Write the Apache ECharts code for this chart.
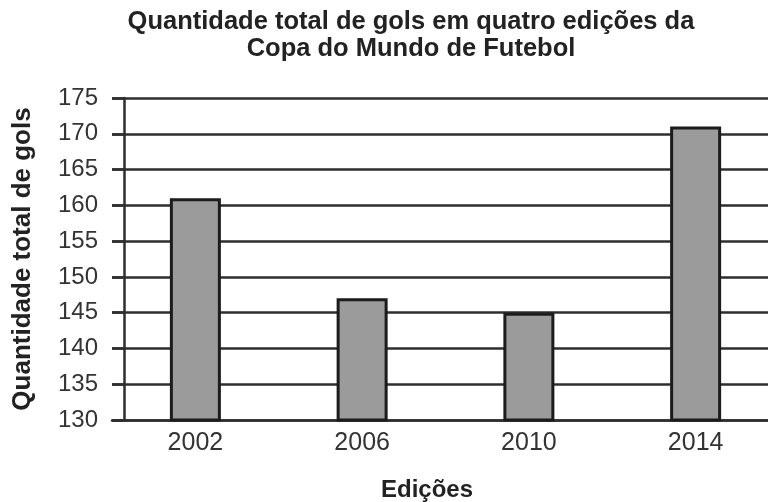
<!DOCTYPE html>
<html>
<head>
<meta charset="utf-8">
<script src="https://cdn.jsdelivr.net/npm/echarts@6/dist/echarts.min.js"></script>
<style>html,body{margin:0;padding:0;background:#fff}#c{width:768px;height:502px}</style>
</head>
<body>
<div id="c"></div>
<script>
const categories = ['2002', '2006', '2010', '2014'];
const goals = [161, 147, 145, 171];
const yTicks = { min: 130, max: 175, interval: 5 };
const titleText = 'Quantidade total de gols em quatro edições da\nCopa do Mundo de Futebol';
const yName = 'Quantidade total de gols';
const xName = 'Edições';

const FONT = '"Liberation Sans", Arial, sans-serif';
const LINE = '#2e2e2e';
const chart = echarts.init(document.getElementById('c'));
chart.setOption({
  animation: false,
  backgroundColor: '#fff',
  title: {
    text: titleText,
    left: 406, top: 3, textAlign: 'center',
    textStyle: { fontFamily: FONT, fontSize: 25.5, fontWeight: 'bold', color: '#222', lineHeight: 27 }
  },
  grid: { left: 112, width: 667, top: 98, bottom: 82, containLabel: false, outerBoundsMode: 'none' },
  xAxis: {
    type: 'category', data: categories,
    axisLine: { lineStyle: { color: LINE, width: 2.5 } },
    axisTick: { show: false },
    axisLabel: { fontFamily: FONT, fontSize: 25, color: '#333', margin: 11 }
  },
  yAxis: {
    type: 'value', min: yTicks.min, max: yTicks.max, interval: yTicks.interval,
    offset: -12,
    name: yName, nameLocation: 'middle', nameGap: 88, nameRotate: 90,
    nameTextStyle: { fontFamily: FONT, fontSize: 26, fontWeight: 'bold', color: '#222' },
    axisLine: { show: true, lineStyle: { color: LINE, width: 2.5 } },
    axisTick: { show: true, length: 12, lineStyle: { color: LINE, width: 2.5 } },
    axisLabel: { fontFamily: FONT, fontSize: 24, color: '#333', margin: 26 },
    splitLine: { lineStyle: { color: LINE, width: 2.5 } }
  },
  graphic: [{
    type: 'text', x: 427, y: 490,
    style: { text: xName, font: 'bold 24px ' + FONT, fill: '#222', textAlign: 'center', textVerticalAlign: 'middle' }
  }],
  series: [{
    type: 'bar', data: goals, barWidth: 51,
    itemStyle: { color: '#9b9b9b', borderColor: '#1c1c1c', borderWidth: 3 }
  }]
});
</script>
</body>
</html>
